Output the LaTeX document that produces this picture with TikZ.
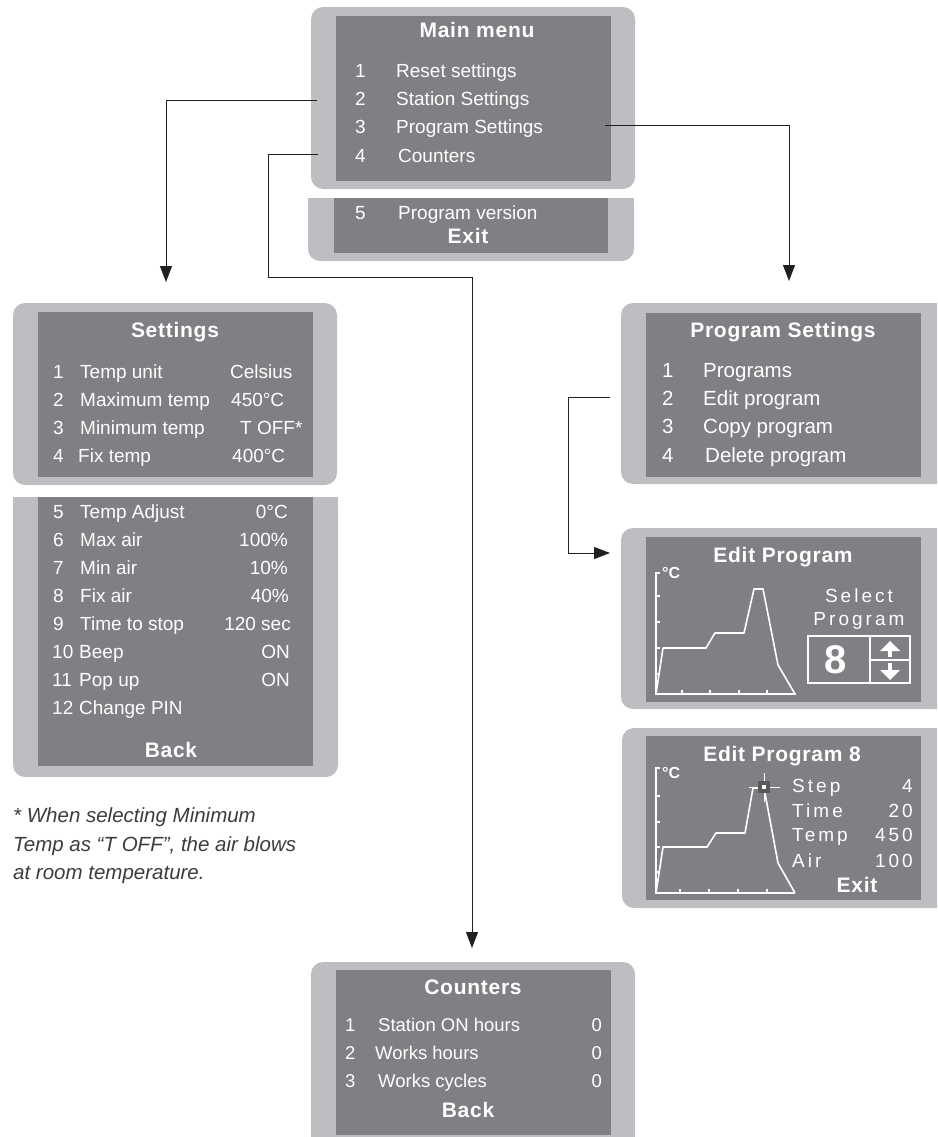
\documentclass[tikz,border=0pt]{standalone}
\usepackage{fontspec}
\setmainfont{Liberation Sans}
\usetikzlibrary{arrows.meta}
\newfontfamily\lcdfont{Liberation Sans}
\newfontfamily\lcdbold[LetterSpace=3.5]{Liberation Sans}
\newfontfamily\lcdwide[LetterSpace=16]{Liberation Sans}
\definecolor{lightg}{RGB}{189,190,193}
\definecolor{darkg}{RGB}{127,128,131}
\definecolor{linec}{RGB}{35,31,32}
\definecolor{cursg}{RGB}{88,89,91}
\definecolor{notec}{RGB}{60,60,60}
\tikzset{
  lt/.style={text=white, inner sep=0pt, anchor=base west, font=\lcdfont\fontsize{19}{19}\selectfont},
  rt/.style={lt, anchor=base east},
  lp/.style={lt, font=\lcdfont\fontsize{20.5}{20.5}\selectfont},
  lc/.style={lt, font=\lcdfont\fontsize{18.5}{18.5}\selectfont},
  rc/.style={lc, anchor=base east},
  ttl/.style={text=white, inner sep=0pt, anchor=base, font=\lcdbold\bfseries\fontsize{21}{21}\selectfont},
  wt/.style={lt, font=\lcdwide\fontsize{19}{19}\selectfont},
  wr/.style={wt, anchor=base east},
  wc/.style={wt, anchor=base},
  degc/.style={text=white, inner sep=0pt, anchor=base west, font=\lcdfont\bfseries\fontsize{16}{16}\selectfont},
  note/.style={text=notec, inner sep=0pt, anchor=base west, font=\itshape\fontsize{20.5}{20.5}\selectfont},
  conn/.style={draw=linec, line width=1pt, -{Triangle[length=16pt,width=12pt]}},
  chart/.style={draw=white, line width=1.3pt},
  curve/.style={draw=white, line width=1.6pt, line join=round},
}
\begin{document}
\begin{tikzpicture}[x=1pt,y=-1pt]
\useasboundingbox (0,0) rectangle (937,1137);
\begin{scope}
\clip (0,0) rectangle (937,1137);
% ---------- screens ----------
% main menu
\fill[lightg, rounded corners=12pt] (311,7) rectangle (635,189);
\fill[darkg] (336,16) rectangle (611,181);
\fill[lightg, rounded corners=12pt] (308,198) rectangle (634,261);
\fill[lightg] (308,198) rectangle (634,215);
\fill[darkg] (334,198) rectangle (608,253);
% settings
\fill[lightg, rounded corners=12pt] (13,303) rectangle (337,485);
\fill[darkg] (38,312) rectangle (313,477);
\fill[lightg, rounded corners=12pt] (13,497) rectangle (338,777);
\fill[lightg] (13,497) rectangle (338,515);
\fill[darkg] (38,497) rectangle (313,766);
% program settings
\fill[lightg, rounded corners=12pt] (621,303) rectangle (955,484);
\fill[darkg] (646,313) rectangle (921,477);
% edit program
\fill[lightg, rounded corners=12pt] (621,528) rectangle (955,709);
\fill[darkg] (646,537) rectangle (921,702);
% edit program 8
\fill[lightg, rounded corners=12pt] (622,728) rectangle (955,908);
\fill[darkg] (646,736) rectangle (921,900);
% counters
\fill[lightg, rounded corners=12pt] (311,962) rectangle (635,1170);
\fill[darkg] (336,970) rectangle (611,1135);
\end{scope}

% ---------- main menu texts ----------
\node[ttl] (mmt) at (477,38) {Main menu};
\node[lt] (mm1n) at (355,78) {1}; \node[lt] (mm1l) at (396,78) {Reset settings};
\node[lt] (mm2n) at (355,106) {2}; \node[lt] (mm2l) at (396,106) {Station Settings};
\node[lt] (mm3n) at (355,134) {3}; \node[lt] (mm3l) at (396,134) {Program Settings};
\node[lt] (mm4n) at (355,162) {4}; \node[lt] (mm4l) at (398,162) {Counters};
\node[lt] (mm5n) at (355,219) {5}; \node[lt] (mm5l) at (398,219) {Program version};
\node[ttl] (mmexit) at (468,243) {Exit};

% ---------- settings texts ----------
\node[ttl] (st) at (175,337) {Settings};
\node[lt] (s1n) at (53,378) {1}; \node[lt] (s1l) at (80,378) {Temp unit}; \node[lt] (s1v) at (230,378) {Celsius};
\node[lt] (s2n) at (53,406) {2}; \node[lt] (s2l) at (80,406) {Maximum temp}; \node[lt] (s2v) at (231,406) {450°C};
\node[lt] (s3n) at (53,434) {3}; \node[lt] (s3l) at (80,434) {Minimum temp}; \node[lt] (s3v) at (240,434) {T OFF*};
\node[lt] (s4n) at (53,462) {4}; \node[lt] (s4l) at (78,462) {Fix temp}; \node[lt] (s4v) at (232,462) {400°C};
\node[lt] (s5n) at (53,518) {5}; \node[lt] (s5l) at (80,518) {Temp Adjust}; \node[rt] (s5v) at (288,518) {0°C};
\node[lt] (s6n) at (53,546) {6}; \node[lt] (s6l) at (80,546) {Max air}; \node[rt] (s6v) at (288,546) {100\%};
\node[lt] (s7n) at (53,574) {7}; \node[lt] (s7l) at (80,574) {Min air}; \node[rt] (s7v) at (288,574) {10\%};
\node[lt] (s8n) at (53,602) {8}; \node[lt] (s8l) at (80,602) {Fix air}; \node[rt] (s8v) at (289,602) {40\%};
\node[lt] (s9n) at (53,630) {9}; \node[lt] (s9l) at (80,630) {Time to stop}; \node[rt] (s9v) at (291,630) {120 sec};
\node[lt] (s10n) at (52,658) {10}; \node[lt] (s10l) at (79,658) {Beep}; \node[rt] (s10v) at (290,658) {ON};
\node[lt] (s11n) at (52,686) {11}; \node[lt] (s11l) at (79,686) {Pop up}; \node[rt] (s11v) at (290,686) {ON};
\node[lt] (s12n) at (52,714) {12}; \node[lt] (s12l) at (79,714) {Change PIN};
\node[ttl] (sback) at (171,757) {Back};

% footnote
\node[note] (fn1) at (13,822) {* When selecting Minimum};
\node[note] (fn2) at (13,851) {Temp as “T OFF”, the air blows};
\node[note] (fn3) at (13,879) {at room temperature.};

% ---------- program settings texts ----------
\node[ttl] (pst) at (783,337) {Program Settings};
\node[lp] (p1n) at (662,377) {1}; \node[lp] (p1l) at (703,377) {Programs};
\node[lp] (p2n) at (662,405) {2}; \node[lp] (p2l) at (703,405) {Edit program};
\node[lp] (p3n) at (662,433) {3}; \node[lp] (p3l) at (703,433) {Copy program};
\node[lp] (p4n) at (662,462) {4}; \node[lp] (p4l) at (705,462) {Delete program};

% ---------- edit program ----------
\node[ttl] (ept) at (783,562) {Edit Program};
\node[degc] (epdeg) at (662,578) {°C};
\draw[chart] (660,573) -- (656,573) -- (656,694) -- (796,694);
\foreach \yy in {596,622,648,674} \draw[chart] (656,\yy) -- (660,\yy);
\foreach \xx in {682,710,739,767} \draw[chart] (\xx,694) -- (\xx,690);
\draw[curve] (656,694) -- (663,648) -- (706,648) -- (715,633) -- (744,633) -- (754,589) -- (763,589) -- (778,665) -- (795,694);
\node[wc] (epsel) at (859,602) {Select};
\node[wc] (epprog) at (859,625) {Program};
\draw[white, line width=1.3pt] (808,636) rectangle (910,683);
\draw[white, line width=1.3pt] (870,636) -- (870,683);
\draw[white, line width=1.3pt] (870,660) -- (910,660);
\node[text=white, inner sep=0pt, anchor=base, font=\lcdfont\bfseries\fontsize{40}{40}\selectfont] (ep8) at (836,673) {8};
\fill[white] (890,641) -- (900,651) -- (880,651) -- cycle;
\fill[white] (888,650) rectangle (892,657);
\fill[white] (890,680) -- (900,670) -- (880,670) -- cycle;
\fill[white] (888,663) rectangle (892,671);

% ---------- edit program 8 ----------
\node[ttl] (ep8t) at (782,761) {Edit Program 8};
\node[degc] (ep8deg) at (662,778) {°C};
\draw[chart] (660,768) -- (656,768) -- (656,893) -- (795,893);
\foreach \yy in {796,822,847,872} \draw[chart] (656,\yy) -- (660,\yy);
\foreach \xx in {680,709,738,767} \draw[chart] (\xx,893) -- (\xx,889);
\draw[curve] (656,893) -- (663,847) -- (707,847) -- (716,833) -- (745,833) -- (753,788) -- (764,788) -- (778,863) -- (795,893);
\fill[cursg] (758,781) rectangle (770,793);
\fill[white] (762,785) rectangle (766,789);
\draw[white, line width=1pt] (764,773) -- (764,781);
\draw[white, line width=1pt] (764,793) -- (764,802);
\draw[white, line width=1pt] (749,787) -- (758,787);
\draw[white, line width=1pt] (770,787) -- (780,787);
\node[wt] (e8sl) at (792,792) {Step}; \node[wr] (e8sv) at (913,792) {4};
\node[wt] (e8tl) at (792,817) {Time}; \node[wr] (e8tv) at (913,817) {20};
\node[wt] (e8pl) at (792,841) {Temp}; \node[wr] (e8pv) at (913,841) {450};
\node[wt] (e8al) at (792,867) {Air}; \node[wr] (e8av) at (913,867) {100};
\node[ttl] (e8exit) at (857,892) {Exit};

% ---------- counters ----------
\node[ttl] (ct) at (473,994) {Counters};
\node[lc] (c1n) at (345,1031) {1}; \node[lc] (c1l) at (378,1031) {Station ON hours}; \node[rc] (c1v) at (602,1031) {0};
\node[lc] (c2n) at (345,1059) {2}; \node[lc] (c2l) at (375,1059) {Works hours}; \node[rc] (c2v) at (602,1059) {0};
\node[lc] (c3n) at (345,1087) {3}; \node[lc] (c3l) at (378,1087) {Works cycles}; \node[rc] (c3v) at (602,1087) {0};
\node[ttl] (cback) at (468,1117) {Back};

% ---------- connectors ----------
\coordinate (k1s) at (317,101);
\coordinate (k1e) at (166,282);
\draw[conn] (k1s) -| (k1e);
\coordinate (k2s) at (318,154);
\coordinate (k2a) at (268,277);
\coordinate (k2e) at (472,948);
\draw[conn] (k2s) -| (k2a) -| (k2e);
\coordinate (k3s) at (605,126);
\coordinate (k3e) at (789,281);
\draw[conn] (k3s) -| (k3e);
\coordinate (k4s) at (610,397);
\coordinate (k4a) at (568,553);
\coordinate (k4e) at (610,553);
\draw[conn] (k4s) -| (k4a) -- (k4e);
\end{tikzpicture}
\end{document}
